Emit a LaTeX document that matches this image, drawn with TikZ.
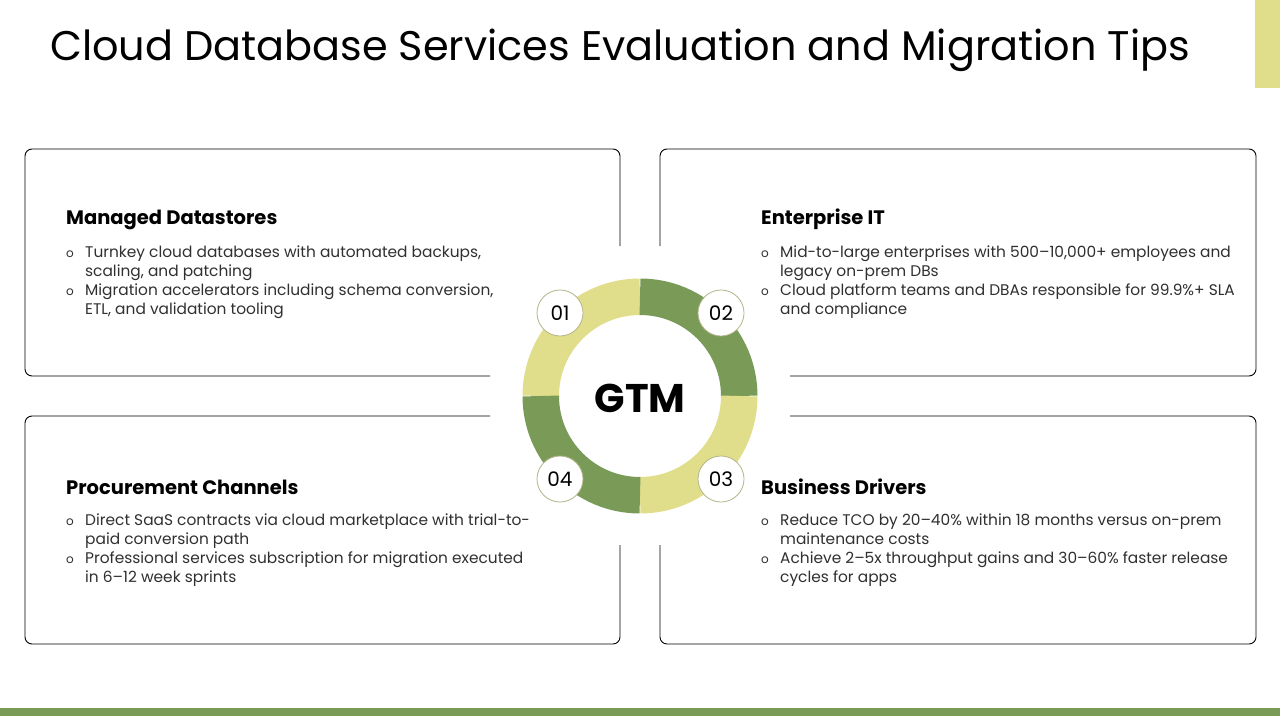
\documentclass[tikz,border=0pt]{standalone}
\usepackage{fontspec}
\setmainfont{Poppins}
\usetikzlibrary{calc}
\definecolor{olivey}{HTML}{E0DE8A}
\definecolor{oliveg}{HTML}{7A9B58}
\definecolor{bodytxt}{HTML}{303030}
\definecolor{numring}{HTML}{B4B58C}
\begin{document}
\begin{tikzpicture}[x=1pt,y=-1pt,
  titletxt/.style={anchor=base west,inner sep=0pt,font=\fontsize{41.4}{48}\selectfont},
  headtxt/.style={anchor=base west,inner sep=0pt,font=\bfseries\fontsize{19.5}{23}\selectfont},
  linetxt/.style={anchor=base west,inner sep=0pt,text=bodytxt,font=\fontsize{15.4}{19}\selectfont},
  bultxt/.style={anchor=base west,inner sep=0pt,text=bodytxt,font=\fontsize{12}{19}\selectfont},
  boxline/.style={draw=black,line width=0.9pt,rounded corners=7pt},
  numc/.style={circle,fill=white,draw=numring,line width=0.8pt,minimum size=46pt,inner sep=0pt,font=\fontsize{20}{24}\selectfont},
  seg/.style={line width=36.5pt}
]
\useasboundingbox (0,0) rectangle (1280,720);
\fill[white] (0,0) rectangle (1280,720);
% accents
\fill[olivey] (1255,0) rectangle (1280,88);
\fill[oliveg] (0,708) rectangle (1280,716);
% title
\node[titletxt] (title) at (50,60) {Cloud Database Services Evaluation and Migration Tips};
% boxes
\draw[boxline] (490,376) -- (25,376) -- (25,149) -- (620,149) -- (620,246);
\draw[boxline] (660,246) -- (660,149) -- (1256,149) -- (1256,376) -- (790,376);
\draw[boxline] (490,416) -- (25,416) -- (25,644) -- (620,644) -- (620,545);
\draw[boxline] (790,416) -- (1256,416) -- (1256,644) -- (660,644) -- (660,545);
% ring
\coordinate (C) at (640,396);
\draw[seg,olivey] ($(C)+(180:99.25)$) arc[start angle=180,end angle=270,radius=99.25];
\draw[seg,oliveg] ($(C)+(270:99.25)$) arc[start angle=270,end angle=360,radius=99.25];
\draw[seg,olivey] ($(C)+(0:99.25)$) arc[start angle=0,end angle=90,radius=99.25];
\draw[seg,oliveg] ($(C)+(90:99.25)$) arc[start angle=90,end angle=180,radius=99.25];
\node[inner sep=0pt,font=\bfseries\fontsize{40}{44}\selectfont] (gtm) at (640,398) {GTM};
\node[numc] (n1) at (560,313) {01};
\node[numc] (n2) at (721,313) {02};
\node[numc] (n3) at (721,479) {03};
\node[numc] (n4) at (560,479) {04};
% box 1
\node[headtxt] (h1) at (66,224) {Managed Datastores};
\node[bultxt] (b1a) at (66,257) {o};
\node[linetxt] (t1a) at (85,257) {Turnkey cloud databases with automated backups,};
\node[linetxt] (t1b) at (85,276) {scaling, and patching};
\node[bultxt] (b1b) at (66,295) {o};
\node[linetxt] (t1c) at (85,295) {Migration accelerators including schema conversion,};
\node[linetxt] (t1d) at (85,314) {ETL, and validation tooling};
% box 2
\node[headtxt] (h2) at (761,224) {Enterprise IT};
\node[bultxt] (b2a) at (761,257) {o};
\node[linetxt] (t2a) at (780,257) {Mid-to-large enterprises with 500–10,000+ employees and};
\node[linetxt] (t2b) at (780,276) {legacy on-prem DBs};
\node[bultxt] (b2b) at (761,295) {o};
\node[linetxt] (t2c) at (780,295) {Cloud platform teams and DBAs responsible for 99.9\%+ SLA};
\node[linetxt] (t2d) at (780,314) {and compliance};
% box 3
\node[headtxt] (h3) at (66,494) {Procurement Channels};
\node[bultxt] (b3a) at (66,525) {o};
\node[linetxt] (t3a) at (85,525) {Direct SaaS contracts via cloud marketplace with trial-to-};
\node[linetxt] (t3b) at (85,544) {paid conversion path};
\node[bultxt] (b3b) at (66,563) {o};
\node[linetxt] (t3c) at (85,563) {Professional services subscription for migration executed};
\node[linetxt] (t3d) at (85,582) {in 6–12 week sprints};
% box 4
\node[headtxt] (h4) at (761,494) {Business Drivers};
\node[bultxt] (b4a) at (761,525) {o};
\node[linetxt] (t4a) at (780,525) {Reduce TCO by 20–40\% within 18 months versus on-prem};
\node[linetxt] (t4b) at (780,544) {maintenance costs};
\node[bultxt] (b4b) at (761,563) {o};
\node[linetxt] (t4c) at (780,563) {Achieve 2–5x throughput gains and 30–60\% faster release};
\node[linetxt] (t4d) at (780,582) {cycles for apps};
\end{tikzpicture}
\end{document}
